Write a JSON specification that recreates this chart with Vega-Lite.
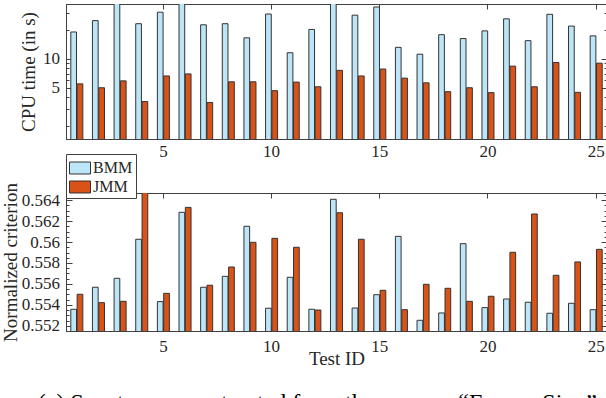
{
  "$schema": "https://vega.github.io/schema/vega-lite/v6.json",
  "padding": {"left": 0, "top": 3, "right": 0, "bottom": 0},
  "bounds": "flush",
  "spacing": 54,
  "datasets": {
    "d": [
      {"id": 1, "method": "BMM", "cpu": 19.1, "crit": 0.55359},
      {"id": 1, "method": "JMM", "cpu": 5.49, "crit": 0.55502},
      {"id": 2, "method": "BMM", "cpu": 25.1, "crit": 0.55569},
      {"id": 2, "method": "JMM", "cpu": 5.0, "crit": 0.55422},
      {"id": 3, "method": "BMM", "cpu": 45, "crit": 0.55654},
      {"id": 3, "method": "JMM", "cpu": 5.9, "crit": 0.55435},
      {"id": 4, "method": "BMM", "cpu": 23.3, "crit": 0.56026},
      {"id": 4, "method": "JMM", "cpu": 3.59, "crit": 0.566},
      {"id": 5, "method": "BMM", "cpu": 30.7, "crit": 0.55432},
      {"id": 5, "method": "JMM", "cpu": 6.64, "crit": 0.55511},
      {"id": 6, "method": "BMM", "cpu": 45, "crit": 0.56283},
      {"id": 6, "method": "JMM", "cpu": 6.97, "crit": 0.5633},
      {"id": 7, "method": "BMM", "cpu": 22.7, "crit": 0.55569},
      {"id": 7, "method": "JMM", "cpu": 3.51, "crit": 0.55588},
      {"id": 8, "method": "BMM", "cpu": 23.3, "crit": 0.55673},
      {"id": 8, "method": "JMM", "cpu": 5.77, "crit": 0.55762},
      {"id": 9, "method": "BMM", "cpu": 16.6, "crit": 0.5615},
      {"id": 9, "method": "JMM", "cpu": 5.77, "crit": 0.55997},
      {"id": 10, "method": "BMM", "cpu": 29.4, "crit": 0.55369},
      {"id": 10, "method": "JMM", "cpu": 4.66, "crit": 0.56035},
      {"id": 11, "method": "BMM", "cpu": 11.6, "crit": 0.55664},
      {"id": 11, "method": "JMM", "cpu": 5.73, "crit": 0.5595},
      {"id": 12, "method": "BMM", "cpu": 20.3, "crit": 0.55359},
      {"id": 12, "method": "JMM", "cpu": 5.12, "crit": 0.55352},
      {"id": 13, "method": "BMM", "cpu": 45, "crit": 0.56407},
      {"id": 13, "method": "JMM", "cpu": 7.6, "crit": 0.56279},
      {"id": 14, "method": "BMM", "cpu": 28.6, "crit": 0.55371},
      {"id": 14, "method": "JMM", "cpu": 6.64, "crit": 0.56026},
      {"id": 15, "method": "BMM", "cpu": 34.8, "crit": 0.55498},
      {"id": 15, "method": "JMM", "cpu": 7.84, "crit": 0.5554},
      {"id": 16, "method": "BMM", "cpu": 13.2, "crit": 0.56054},
      {"id": 16, "method": "JMM", "cpu": 6.3, "crit": 0.55355},
      {"id": 17, "method": "BMM", "cpu": 11.2, "crit": 0.55254},
      {"id": 17, "method": "JMM", "cpu": 5.63, "crit": 0.55597},
      {"id": 18, "method": "BMM", "cpu": 17.9, "crit": 0.55324},
      {"id": 18, "method": "JMM", "cpu": 4.55, "crit": 0.55559},
      {"id": 19, "method": "BMM", "cpu": 16.3, "crit": 0.55984},
      {"id": 19, "method": "JMM", "cpu": 5.0, "crit": 0.55435},
      {"id": 20, "method": "BMM", "cpu": 19.6, "crit": 0.55375},
      {"id": 20, "method": "JMM", "cpu": 4.45, "crit": 0.55483},
      {"id": 21, "method": "BMM", "cpu": 26.2, "crit": 0.55457},
      {"id": 21, "method": "JMM", "cpu": 8.41, "crit": 0.55902},
      {"id": 22, "method": "BMM", "cpu": 15.5, "crit": 0.55426},
      {"id": 22, "method": "JMM", "cpu": 5.12, "crit": 0.56267},
      {"id": 23, "method": "BMM", "cpu": 29.2, "crit": 0.55321},
      {"id": 23, "method": "JMM", "cpu": 9.18, "crit": 0.55683},
      {"id": 24, "method": "BMM", "cpu": 22.0, "crit": 0.55416},
      {"id": 24, "method": "JMM", "cpu": 4.48, "crit": 0.5581},
      {"id": 25, "method": "BMM", "cpu": 17.4, "crit": 0.55355},
      {"id": 25, "method": "JMM", "cpu": 9.03, "crit": 0.5593}
    ]
  },
  "title": {
    "text": "(c) Spectrum … extracted from the \u2003…\u2003 “F…\u2003\u2002Si…”",
    "orient": "bottom",
    "anchor": "start",
    "frame": "bounds",
    "dx": 37,
    "offset": 22,
    "font": "Liberation Serif",
    "fontSize": 24,
    "fontWeight": "normal",
    "color": "#000000"
  },
  "vconcat": [
    {
      "width": 541,
      "height": 135,
      "data": {"name": "d"},
      "layer": [
        {
          "mark": {"type": "bar", "clip": true, "stroke": "#333333", "strokeWidth": 1},
          "encoding": {
            "x": {"field": "id", "type": "ordinal", "scale": {"paddingInner": 0.444, "paddingOuter": 0.222},
              "axis": {"orient": "bottom", "values": [5, 10, 15, 20, 25], "labelAngle": 0, "tickSize": -5, "labelPadding": 9, "title": null}},
            "xOffset": {"field": "method", "type": "nominal", "sort": ["BMM", "JMM"], "scale": {"paddingInner": 0.1}},
            "y": {"field": "cpu", "type": "quantitative", "scale": {"type": "log", "domain": [1.46, 37.4]},
              "axis": {"values": [2, 3, 4, 5, 6, 7, 8, 9, 10, 20, 30],
                "labelExpr": "datum.value == 5 || datum.value == 10 ? format(datum.value, 'd') : ''",
                "tickSize": {"condition": {"test": "datum.value == 5 || datum.value == 10", "value": -6}, "value": -3},
                "labelPadding": 12.5, "title": "CPU time (in s)", "titlePadding": 4}},
            "y2": {"datum": 1},
            "fill": {"field": "method", "type": "nominal", "scale": {"domain": ["BMM", "JMM"], "range": ["#bde5f8", "#d95319"]}, "legend": null}
          }
        },
        {
          "mark": {"type": "point", "opacity": 0, "clip": true},
          "encoding": {
            "x": {"field": "id", "type": "ordinal", "axis": {"orient": "top", "values": [5, 10, 15, 20, 25], "labels": false, "tickSize": -5, "title": null}},
            "y": {"field": "cpu", "type": "quantitative", "scale": {"type": "log", "domain": [1.46, 37.4]},
              "axis": {"orient": "right", "values": [2, 3, 4, 5, 6, 7, 8, 9, 10, 20, 30], "labels": false,
                "tickSize": {"condition": {"test": "datum.value == 5 || datum.value == 10", "value": -6}, "value": -3}, "title": null}}
          }
        }
      ],
      "resolve": {"axis": {"x": "independent", "y": "independent"}}
    },
    {
      "width": 541,
      "height": 138,
      "data": {"name": "d"},
      "layer": [
        {
          "mark": {"type": "bar", "clip": true, "stroke": "#333333", "strokeWidth": 1},
          "encoding": {
            "x": {"field": "id", "type": "ordinal", "scale": {"paddingInner": 0.444, "paddingOuter": 0.222},
              "axis": {"orient": "bottom", "values": [5, 10, 15, 20, 25], "labelAngle": 0, "tickSize": -5, "labelPadding": 12, "title": "Test ID", "titlePadding": -5}},
            "xOffset": {"field": "method", "type": "nominal", "sort": ["BMM", "JMM"], "scale": {"paddingInner": 0.1}},
            "y": {"field": "crit", "type": "quantitative", "scale": {"domain": [0.55152, 0.56467], "zero": false},
              "axis": {"values": [0.552, 0.5525, 0.553, 0.5535, 0.554, 0.5545, 0.555, 0.5555, 0.556, 0.5565, 0.557, 0.5575, 0.558, 0.5585, 0.559, 0.5595, 0.56, 0.5605, 0.561, 0.5615, 0.562, 0.5625, 0.563, 0.5635, 0.564, 0.5645],
                "labelExpr": "abs(datum.value * 500 - round(datum.value * 500)) < 0.01 ? format(datum.value, '.3~f') : ''",
                "tickSize": {"condition": {"test": "abs(datum.value * 500 - round(datum.value * 500)) < 0.01", "value": -6}, "value": -3},
                "labelPadding": 12.5, "title": "Normalized criterion", "titlePadding": 1}},
            "y2": {"datum": 0.55},
            "fill": {"field": "method", "type": "nominal", "scale": {"domain": ["BMM", "JMM"], "range": ["#bde5f8", "#d95319"]},
              "legend": {"orient": "none", "legendX": 0, "legendY": -39, "title": null,
                "symbolType": "M-1,-0.57L1,-0.57L1,0.57L-1,0.57Z", "symbolSize": 441,
                "symbolStrokeColor": "#333333", "symbolStrokeWidth": 1, "symbolOpacity": 1,
                "labelFont": "Liberation Serif", "labelFontSize": 16, "labelColor": "#262626", "labelOffset": 2,
                "strokeColor": "#404040", "fillColor": "#ffffff", "padding": 3, "rowPadding": 0}}
          }
        },
        {
          "mark": {"type": "point", "opacity": 0, "clip": true},
          "encoding": {
            "x": {"field": "id", "type": "ordinal", "axis": {"orient": "top", "values": [5, 10, 15, 20, 25], "labels": false, "tickSize": -5, "title": null}},
            "y": {"field": "crit", "type": "quantitative", "scale": {"domain": [0.55152, 0.56467], "zero": false},
              "axis": {"orient": "right", "values": [0.552, 0.5525, 0.553, 0.5535, 0.554, 0.5545, 0.555, 0.5555, 0.556, 0.5565, 0.557, 0.5575, 0.558, 0.5585, 0.559, 0.5595, 0.56, 0.5605, 0.561, 0.5615, 0.562, 0.5625, 0.563, 0.5635, 0.564, 0.5645], "labels": false,
                "tickSize": {"condition": {"test": "abs(datum.value * 500 - round(datum.value * 500)) < 0.01", "value": -6}, "value": -3}, "title": null}}
          }
        }
      ],
      "resolve": {"axis": {"x": "independent", "y": "independent"}}
    }
  ],
  "resolve": {"scale": {"fill": "independent"}, "legend": {"fill": "independent"}},
  "config": {
    "font": "Liberation Serif",
    "view": {"stroke": "#404040", "strokeWidth": 1},
    "axis": {
      "labelFont": "Liberation Serif", "titleFont": "Liberation Serif",
      "labelFontSize": 17, "titleFontSize": 19, "titleFontWeight": "normal",
      "labelColor": "#262626", "titleColor": "#262626",
      "domainColor": "#404040", "tickColor": "#404040", "domainWidth": 1, "tickWidth": 1,
      "grid": false
    }
  }
}
